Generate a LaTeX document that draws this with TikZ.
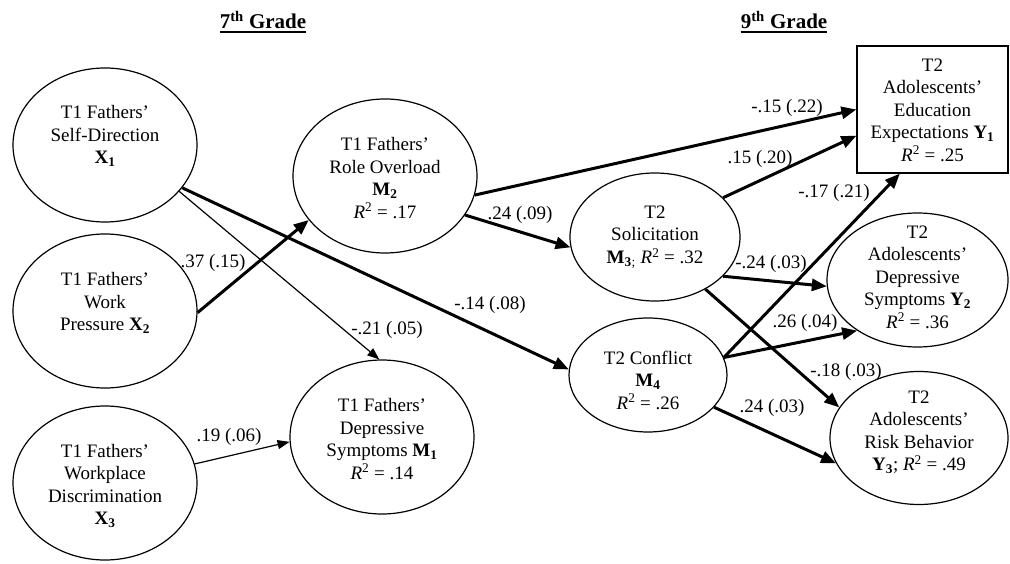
\documentclass[tikz,border=0pt]{standalone}
\usepackage{fontspec}
\setmainfont{Liberation Serif}
\usetikzlibrary{shapes.geometric, arrows.meta}

\newcommand{\lFathers}{T1 Fathers’}
\newcommand{\lAdol}{Adolescents’}
\newcommand{\vName}[2]{\textbf{#1\textsubscript{#2}}}
\newcommand{\rSq}[1]{\textit{R}\textsuperscript{2} = #1}

% from/anchor/to/anchor/kind/estimate/label x/label y
\newcommand{\pathList}{%
    x1/331/m4/176/heavy/{-.14 (.08)}/490/305,
    x1/328/m1/92/light/{-.21 (.05)}/387/330,
    x2/359/m2/210/heavy/{.37 (.15)}/213/263,
    x3/12/m1/183/light/{.19 (.06)}/229/437,
    m2/348/y1/west/heavy/{-.15 (.22)}/787/108,
    m2/334/m3/187/heavy/{.24 (.09)}/520/215,
    m3/30/y1/199/heavy/{.15 (.20)}/760/159,
    m3/330/y2/184/heavy/{-.24 (.03)}/771/264,
    m3/314/y3/159/heavy/{-.18 (.03)}/846/372,
    m4/13/y1/243/heavy/{-.17 (.21)}/834/193,
    m4/13/y2/220/heavy/{.26 (.04)}/805/323,
    m4/334/y3/197/heavy/{.24 (.03)}/772/408
}

\begin{document}
\begin{tikzpicture} [
        x=1pt, y=-1pt,
        every node/.style={font=\fontsize{19}{22.5}\selectfont},
        oval/.style={draw, ellipse, line width=1.2pt, inner sep=0},
        box/.style={draw, rectangle, line width=1.2pt, inner sep=0},
        var text/.style={align=center, inner sep=0},
        coef/.style={inner sep=0},
        heavy/.style={line width=3pt, -{Triangle[length=15pt, width=12pt]}},
        light/.style={line width=1.2pt, -{Triangle[length=12pt, width=9pt]}},
        grade/.style={font=\fontsize{21}{25}\selectfont\bfseries, inner sep=0},
        grade rule/.style={line width=1.5pt},
    ]
    \useasboundingbox (0,0) rectangle (1010,564);

    \node[grade] (grade 7) at (263,20) {7\textsuperscript{th} Grade};
    \node[grade] (grade 9) at (784,20) {9\textsuperscript{th} Grade};
    \foreach \g in {7,9} {
        \draw[grade rule] ([yshift=-3pt]grade \g.base west) -- ([yshift=-3pt]grade \g.base east);
    }

    % 7th grade
    \node[oval, minimum width=184pt, minimum height=154pt] (x1) at (105,145) {};
    \node[oval, minimum width=184pt, minimum height=154pt] (x2) at (105,311) {};
    \node[oval, minimum width=184pt, minimum height=154pt] (x3) at (105,483) {};
    \node[oval, minimum width=184pt, minimum height=154pt] (m2) at (385,176) {};
    \node[oval, minimum width=184pt, minimum height=154pt] (m1) at (382,437) {};
    \node[var text] (x1 text) at (105,136) {\lFathers\\Self-Direction\\\vName{X}{1}};
    \node[var text] (x2 text) at (105,303) {\lFathers\\Work\\Pressure \vName{X}{2}};
    \node[var text] (x3 text) at (105,486) {\lFathers\\Workplace\\Discrimination\\\vName{X}{3}};
    \node[var text] (m2 text) at (385,178) {\lFathers\\Role Overload\\\vName{M}{2}\\\rSq{.17}};
    \node[var text] (m1 text) at (382,439) {\lFathers\\Depressive\\Symptoms \vName{M}{1}\\\rSq{.14}};

    % 9th grade
    \node[oval, minimum width=170pt, minimum height=128pt] (m3) at (655,237) {};
    \node[oval, minimum width=158pt, minimum height=114pt] (m4) at (648,375) {};
    \node[box, minimum width=151pt, minimum height=127pt] (y1) at (932.5,109.5) {};
    \node[oval, minimum width=181pt, minimum height=134pt] (y2) at (917.5,280) {};
    \node[oval, minimum width=178pt, minimum height=133pt] (y3) at (919,438) {};
    \node[var text] (m3 text) at (655,237) {T2\\Solicitation\\\vName{M}{3}\textsubscript{;} \rSq{.32}};
    \node[var text] (m4 text) at (648,380) {T2 Conflict\\\vName{M}{4}\\\rSq{.26}};
    \node[var text] (y1 text) at (932.5,110) {T2\\\lAdol\\Education\\Expectations \vName{Y}{1}\\\rSq{.25}};
    \node[var text] (y2 text) at (917.5,277) {T2\\\lAdol\\Depressive\\Symptoms \vName{Y}{2}\\\rSq{.36}};
    \node[var text] (y3 text) at (919,432) {T2\\\lAdol\\Risk Behavior\\\vName{Y}{3}; \rSq{.49}};

    \foreach \src/\srcAt/\dst/\dstAt/\kind/\coefText/\lx/\ly in \pathList {
        \draw[\kind] (\src.\srcAt) -- (\dst.\dstAt);
        \node[coef] (coef \src\dst) at (\lx,\ly) {\coefText};
    }
\end{tikzpicture}
\end{document}
